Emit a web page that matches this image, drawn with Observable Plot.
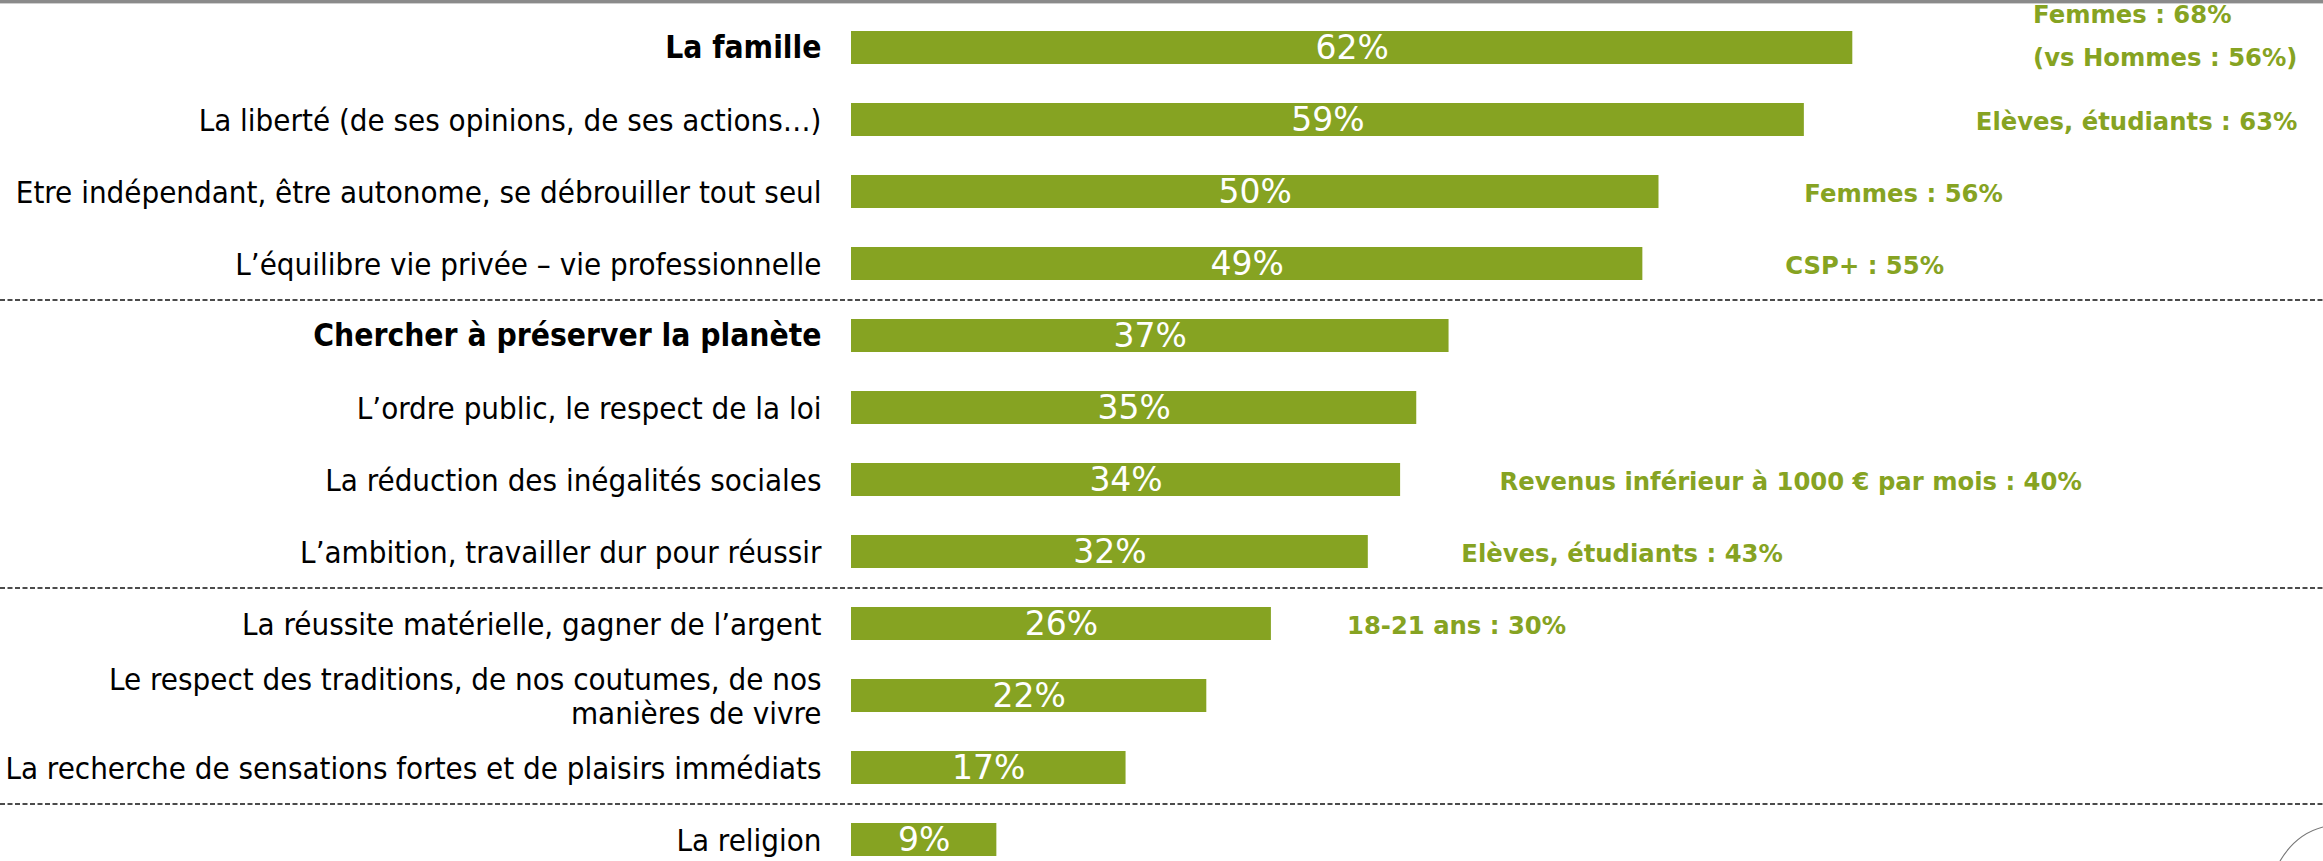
<!DOCTYPE html>
<html><head><meta charset="utf-8">
<script src="https://cdn.jsdelivr.net/npm/d3@7"></script>
<script src="https://cdn.jsdelivr.net/npm/@observablehq/plot@0.6"></script>
<style>
html,body{margin:0;padding:0;background:#fff;overflow:hidden}
#wrap{position:relative;width:2323px;height:861px;overflow:hidden}
#topline{position:absolute;left:0;top:0;width:2323px;height:3px;background:#8a8a8a;border-bottom:1px solid #cfcfcf}
#deco{position:absolute;left:0;top:0;pointer-events:none}
</style></head><body><div id="wrap"><div id="chart"></div><div id="topline"></div>
<svg id="deco" width="2323" height="861"><path d="M2280,861 Q2296,834 2323,827" fill="none" stroke="#777" stroke-width="1.2"/></svg></div>
<script>
const categories = [
  "La famille",
  "La liberté (de ses opinions, de ses actions…)",
  "Etre indépendant, être autonome, se débrouiller tout seul",
  "L’équilibre vie privée – vie professionnelle",
  "Chercher à préserver la planète",
  "L’ordre public, le respect de la loi",
  "La réduction des inégalités sociales",
  "L’ambition, travailler dur pour réussir",
  "La réussite matérielle, gagner de l’argent",
  "Le respect des traditions, de nos coutumes, de nos\nmanières de vivre",
  "La recherche de sensations fortes et de plaisirs immédiats",
  "La religion"
];
const values = [62, 59, 50, 49, 37, 35, 34, 32, 26, 22, 17, 9];
const boldCategories = ["La famille", "Chercher à préserver la planète"];
const groupEnds = [
  "L’équilibre vie privée – vie professionnelle",
  "L’ambition, travailler dur pour réussir",
  "La recherche de sensations fortes et de plaisirs immédiats"
];
const noteCategories = [
  "La famille",
  "La liberté (de ses opinions, de ses actions…)",
  "Etre indépendant, être autonome, se débrouiller tout seul",
  "L’équilibre vie privée – vie professionnelle",
  "La réduction des inégalités sociales",
  "L’ambition, travailler dur pour réussir",
  "La réussite matérielle, gagner de l’argent"
];
const noteTexts = [
  "Femmes : 68%\n(vs Hommes : 56%)",
  "Elèves, étudiants : 63%",
  "Femmes : 56%",
  "CSP+ : 55%",
  "Revenus inférieur à 1000 € par mois : 40%",
  "Elèves, étudiants : 43%",
  "18-21 ans : 30%"
];

const rows = categories.map((c, i) => ({category: c, value: values[i], bold: boldCategories.includes(c)}));
const notes = noteCategories.map((c, i) => ({category: c, value: values[categories.indexOf(c)], text: noteTexts[i]}));
const multiNotes = notes.filter(d => d.text.includes("\n"));
const singleNotes = notes.filter(d => !d.text.includes("\n"));

const green = "#86a322";
const noteStyle = {x: d => d.value * 1.18, y: "category", text: "text", textAnchor: "start",
  fill: green, fontSize: 24.3, fontWeight: "bold", fontFamily: "DejaVu Sans", lineHeight: 1.77};
const chart = Plot.plot({
  width: 2323, height: 861,
  marginLeft: 0, marginRight: 0, marginTop: 27, marginBottom: 2,
  x: {domain: [0, 100], range: [851, 2466], axis: null},
  y: {domain: categories, paddingInner: 0.545, paddingOuter: 0, axis: null},
  style: {background: "transparent", overflow: "visible"},
  marks: [
    Plot.ruleY(groupEnds, {y: d => d, dy: 36, stroke: "#111", strokeWidth: 1.7, strokeDasharray: "5,2.5"}),
    Plot.barX(rows, {x1: d => 0, x2: "value", y: "category", fill: green}),
    Plot.text(rows, {x: d => d.value / 2, y: "category", text: d => d.value + "%", fill: "white",
      fontSize: 33, fontFamily: "DejaVu Sans"}),
    Plot.text(rows.filter(d => !d.bold), {x: d => 0, y: "category", text: "category", textAnchor: "end", dx: -30,
      fill: "#000", fontSize: 31, fontFamily: "DejaVu Sans Condensed", lineHeight: 1.1}),
    Plot.text(rows.filter(d => d.bold), {x: d => 0, y: "category", text: "category", textAnchor: "end", dx: -30,
      fill: "#000", fontSize: 31.5, fontWeight: "bold", fontFamily: "DejaVu Sans Condensed"}),
    Plot.text(singleNotes, {...noteStyle, dy: -4}),
    Plot.text(multiNotes, {...noteStyle, dy: -17})
  ]
});
document.getElementById("chart").appendChild(chart);
</script></body></html>
